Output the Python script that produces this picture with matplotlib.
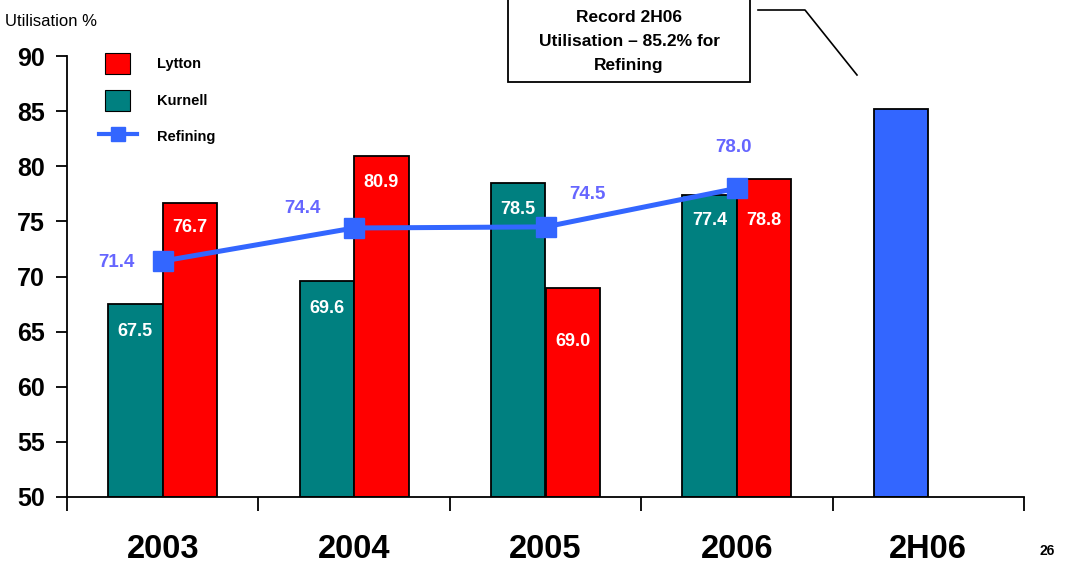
import matplotlib.pyplot as plt
from matplotlib.patches import Rectangle
from matplotlib.lines import Line2D
from matplotlib.legend_handler import HandlerPatch
import numpy as np

# data
years = ['2003', '2004', '2005', '2006', '2H06']
kurnell = [67.5, 69.6, 78.5, 77.4]
lytton = [76.7, 80.9, 69.0, 78.8]
refining = [71.4, 74.4, 74.5, 78.0]
record_2h06 = 85.2

plt.rcParams['font.family'] = ['Liberation Sans', 'DejaVu Sans']

teal = '#008080'
red = '#FF0000'
blue = '#3366FF'
lblue = '#6666FF'

fig = plt.figure(figsize=(10.7, 5.65), dpi=100)
ax = fig.add_axes([67/1070, 1 - 497/565, (1024 - 67)/1070, (497 - 56)/565])

w = 0.285
x = np.arange(len(kurnell))
ax.bar(x - w/2, [k - 50 for k in kurnell], w, bottom=50, color=teal, edgecolor='black', linewidth=1.3, zorder=2)
ax.bar(x + w/2, [l - 50 for l in lytton], w, bottom=50, color=red, edgecolor='black', linewidth=1.3, zorder=2)
ax.bar(4 - w/2, record_2h06 - 50, w, bottom=50, color=blue, edgecolor='black', linewidth=1.3, zorder=2)
ax.plot(x, refining, color=blue, lw=3.6, marker='s', ms=14, zorder=4)

# bar labels (white, inside bar tops)
k_off = [2.5, 2.5, 2.4, 2.3]
l_off = [2.3, 2.4, 4.9, 3.7]
for i in x:
    ax.text(i - w/2, kurnell[i] - k_off[i], f'{kurnell[i]:.1f}', ha='center', va='center',
            color='white', fontsize=13, fontweight='bold', zorder=5)
    ax.text(i + w/2, lytton[i] - l_off[i], f'{lytton[i]:.1f}', ha='center', va='center',
            color='white', fontsize=13, fontweight='bold', zorder=5)

# refining labels
r_dx = [-0.24, -0.27, 0.22, -0.02]
r_dy = [-0.1, 1.8, 2.9, 3.7]
for i in x:
    ax.text(i + r_dx[i], refining[i] + r_dy[i], f'{refining[i]:.1f}', ha='center', va='center',
            color=lblue, fontsize=13.5, fontweight='bold', zorder=5)

ax.set_xlim(-0.5, 4.5)
ax.set_ylim(50, 90)
ax.set_yticks(range(50, 91, 5))
ax.tick_params(axis='y', direction='out', length=8, width=1.3, pad=8, labelsize=18)
for t in ax.get_yticklabels():
    t.set_fontweight('bold')
ax.set_xticks(range(5))
ax.set_xticklabels(years, fontsize=23.5, fontweight='bold')
ax.tick_params(axis='x', length=0, pad=27)
ax.set_xticks(np.arange(-0.5, 4.6, 1), minor=True)
ax.tick_params(axis='x', which='minor', direction='out', length=10, width=1.3)
for s in ['top', 'right']:
    ax.spines[s].set_visible(False)
for s in ['left', 'bottom']:
    ax.spines[s].set_linewidth(1.3)


# legend: squares narrower than the line handle
def small_box(legend, orig_handle, xdescent, ydescent, width, height, fontsize):
    return Rectangle((-xdescent + width*0.16, -ydescent), width*0.66, height)


handles = [Rectangle((0, 0), 1, 1, facecolor=red, edgecolor='black', lw=0.8),
           Rectangle((0, 0), 1, 1, facecolor=teal, edgecolor='black', lw=0.8),
           Line2D([], [], color=blue, lw=3, marker='s', ms=10)]
leg = fig.legend(handles, ['Lytton', 'Kurnell', 'Refining'], loc='upper left',
                 bbox_to_anchor=(86/1070, 1 - 40/565), frameon=False,
                 prop={'weight': 'bold', 'size': 10.5}, handlelength=2.6, handleheight=1.85,
                 labelspacing=1.05, handletextpad=1.4,
                 handler_map={Rectangle: HandlerPatch(patch_func=small_box)})

fig.text(5/1070, 1 - 21/565, 'Utilisation %', fontsize=12, va='center', ha='left')

# callout box
box = Rectangle((508/1070, 1 - 82/565), 242/1070, 0.2, transform=fig.transFigure,
                facecolor='white', edgecolor='black', lw=1.3, clip_on=False)
fig.patches.append(box)
fig.text(629/1070, 1 - 41.5/565, 'Record 2H06\nUtilisation \u2013 85.2% for\nRefining', ha='center',
         va='center', fontsize=12.5, fontweight='bold', linespacing=1.75)
fig.add_artist(Line2D([758/1070, 805/1070, 857/1070], [1 - 10/565, 1 - 10/565, 1 - 75/565],
                      transform=fig.transFigure, color='black', lw=1.2))

fig.text(1047/1070, 1 - 551/565, '26', ha='center', va='center', fontsize=10, fontweight='bold')

fig.savefig('out.png', dpi=100)
